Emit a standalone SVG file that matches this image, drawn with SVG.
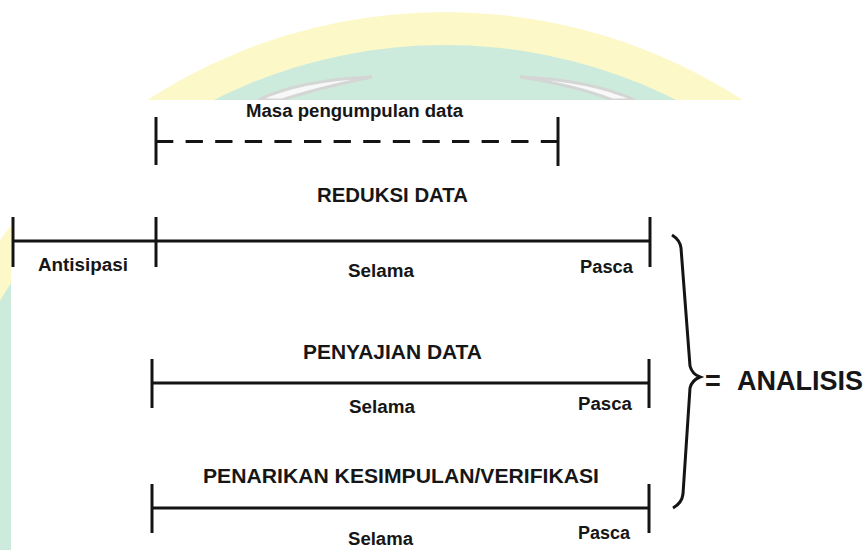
<svg xmlns="http://www.w3.org/2000/svg" width="864" height="550" viewBox="0 0 864 550">
  <style>
    .ln { stroke: #141414; stroke-width: 3; fill: none; stroke-linecap: butt; }
    .lbl { font-family: "Liberation Sans", Arial, sans-serif; font-weight: bold; fill: #161616; }
    .sm { font-size: 18px; }
    .hd { font-size: 20px; }
  </style>

  <!-- background emblem, faded -->
  <g id="emblem">
    <rect x="0" y="0" width="864" height="550" fill="#ffffff"/>
    <circle cx="445" cy="560" r="548" fill="#fdf8c8"/>
    <circle cx="445" cy="560" r="515" fill="#cdebdc"/>
    <path d="M258,100 Q300,80 372,77 Q318,88 282,100 Z" fill="#f7f8f7" stroke="#d3d6d4" stroke-width="3"/>
    <path d="M520,77 Q590,80 635,100 L612,100 Q578,86 520,77 Z" fill="#f7f8f7" stroke="#d3d6d4" stroke-width="3"/>
  </g>

  <!-- diagram sheet -->
  <rect x="11" y="100" width="853" height="450" fill="#ffffff"/>

  <g id="connectors">
    <!-- data collection period -->
    <line class="ln" x1="156" y1="117" x2="156" y2="165"/>
    <line class="ln" x1="558" y1="117" x2="558" y2="166"/>
    <line class="ln" x1="156" y1="141.5" x2="558" y2="141.5" stroke-dasharray="17.3 12.3"/>

    <!-- reduction timeline -->
    <line class="ln" x1="13" y1="241" x2="650" y2="241"/>
    <line class="ln" x1="13" y1="217" x2="13" y2="267"/>
    <line class="ln" x1="156" y1="217" x2="156" y2="267"/>
    <line class="ln" x1="650" y1="217" x2="650" y2="267"/>

    <!-- presentation timeline -->
    <line class="ln" x1="152" y1="383" x2="649" y2="383"/>
    <line class="ln" x1="152" y1="359" x2="152" y2="408"/>
    <line class="ln" x1="649" y1="359" x2="649" y2="408"/>

    <!-- conclusion timeline -->
    <line class="ln" x1="152" y1="508" x2="649" y2="508"/>
    <line class="ln" x1="152" y1="484" x2="152" y2="533"/>
    <line class="ln" x1="649" y1="484" x2="649" y2="533"/>

    <!-- brace -->
    <path class="ln" d="M672,235 Q680,240 681,248 L690,366 Q692,374 700,377 Q692,380 690,388 L683,494 Q682,503 673,508"/>
  </g>

  <g id="masa">
    <text class="lbl sm" x="246" y="117" textLength="217" lengthAdjust="spacingAndGlyphs">Masa pengumpulan data</text>
  </g>

  <g id="reduksi">
    <text class="lbl hd" x="317" y="202" textLength="151" lengthAdjust="spacingAndGlyphs">REDUKSI DATA</text>
    <text class="lbl sm" x="38" y="271" textLength="90" lengthAdjust="spacingAndGlyphs">Antisipasi</text>
    <text class="lbl sm" x="348" y="277" textLength="66" lengthAdjust="spacingAndGlyphs">Selama</text>
    <text class="lbl sm" x="580" y="273" textLength="53" lengthAdjust="spacingAndGlyphs">Pasca</text>
  </g>

  <g id="penyajian">
    <text class="lbl hd" x="303" y="359" textLength="179" lengthAdjust="spacingAndGlyphs">PENYAJIAN DATA</text>
    <text class="lbl sm" x="349" y="413" textLength="66" lengthAdjust="spacingAndGlyphs">Selama</text>
    <text class="lbl sm" x="578" y="410" textLength="54" lengthAdjust="spacingAndGlyphs">Pasca</text>
  </g>

  <g id="penarikan">
    <text class="lbl" style="font-size:21px" x="203" y="483" textLength="396" lengthAdjust="spacingAndGlyphs">PENARIKAN KESIMPULAN/VERIFIKASI</text>
    <text class="lbl sm" x="348" y="545" textLength="65" lengthAdjust="spacingAndGlyphs">Selama</text>
    <text class="lbl sm" x="578" y="539" textLength="52" lengthAdjust="spacingAndGlyphs">Pasca</text>
  </g>

  <g id="analisis">
    <text class="lbl" style="font-size:27px" x="705" y="390">=<tspan x="737" textLength="126" lengthAdjust="spacingAndGlyphs">ANALISIS</tspan></text>
  </g>
</svg>
